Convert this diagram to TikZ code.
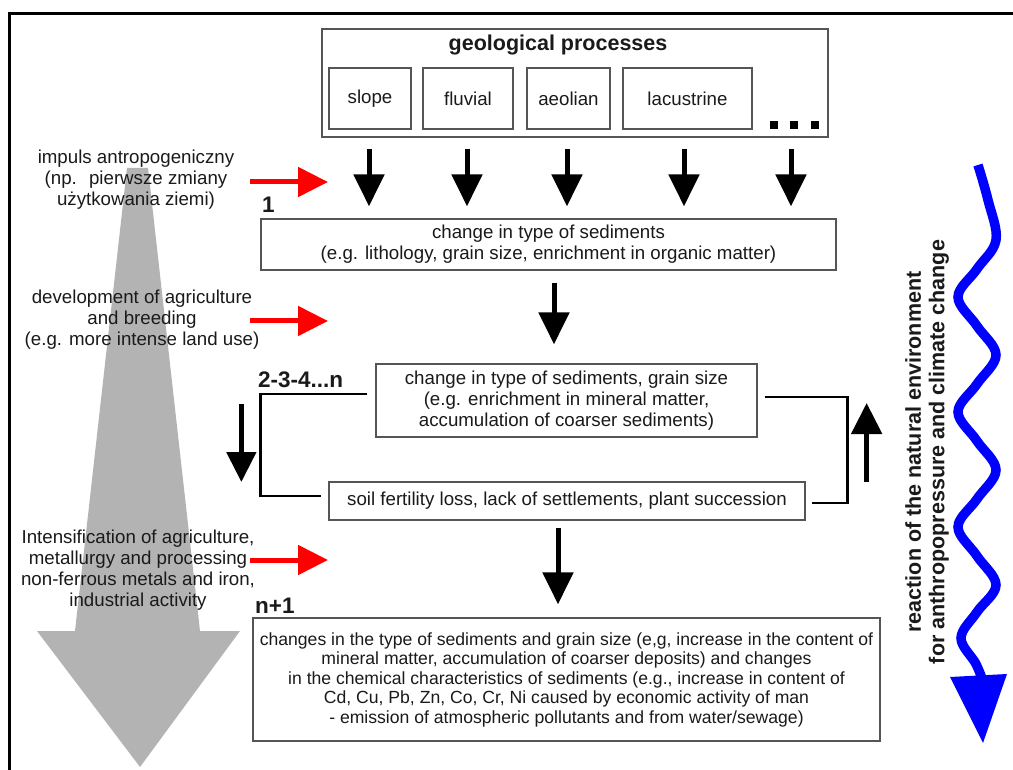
\documentclass[tikz,border=0pt]{standalone}
\usepackage{fontspec}
\setmainfont{Liberation Sans}
\usetikzlibrary{arrows.meta,calc}
\definecolor{txtcol}{HTML}{1A1A1A}
\definecolor{boxcol}{HTML}{555555}
\definecolor{graycol}{HTML}{B3B3B3}
\definecolor{bluecol}{HTML}{0000FF}
\definecolor{redcol}{HTML}{FF0000}
\begin{document}
\begin{tikzpicture}[x=1pt,y=-1pt,
  txt/.style={text=txtcol, font=\fontsize{18.7}{21}\selectfont, align=center, inner sep=0pt},
  box/.style={txt, draw=boxcol, line width=1.3pt, inner sep=0pt},
  lbl/.style={text=txtcol, font=\bfseries\fontsize{22.5}{25}\selectfont, inner sep=0pt},
  blk/.style={draw=black, line width=5pt, -{Triangle[length=32pt,width=30pt]}},
  redarr/.style={draw=redcol, line width=5pt, -{Triangle[length=30pt,width=29pt]}},
  loopline/.style={draw=black, line width=2.5pt},
  dot/.style={fill=black, minimum size=8pt, inner sep=0pt},
]
\useasboundingbox (0,0) rectangle (1013,770);
\fill[white] (0,0) rectangle (1013,770);
% frame
\draw[line width=3pt] (9.5,775) -- (9.5,13.5) -- (1020,13.5);

% grey arrow
\fill[graycol] (127,168) -- (148,168) -- (200,631) -- (240,631) -- (140,767) -- (37,631) -- (75,631) -- cycle;

% geological processes
\node[draw=boxcol, line width=1.3pt, minimum width=506pt, minimum height=108pt, inner sep=0pt] (geo) at (575,83) {};
\node[lbl, anchor=base, font=\bfseries\fontsize{21.5}{24}\selectfont] (geot) at (558,51) {geological processes};
\node[box, minimum width=82pt, minimum height=61pt] (slope) at (370,98.5) {slope};
\node[box, minimum width=90pt, minimum height=61pt] (fluvial) at (468,98.5) {fluvial};
\node[box, minimum width=83pt, minimum height=61pt] (aeolian) at (568.5,98.5) {aeolian};
\node[box, minimum width=129pt, minimum height=61pt] (lacus) at (687.5,98.5) {lacustrine};
\node[dot] (d1) at (774,125) {};
\node[dot] (d2) at (794,125) {};
\node[dot] (d3) at (814.5,125) {};

% main boxes
\node[box, minimum width=575pt, minimum height=51pt] (box1) at (548.5,244.5)
  {change in type of sediments\\(e.g. lithology, grain size, enrichment in organic matter)};
\node[box, minimum width=381pt, minimum height=73pt] (box2) at (566.5,400.5)
  {change in type of sediments, grain size\\(e.g. enrichment in mineral matter,\\accumulation of coarser sediments)};
\node[box, minimum width=476pt, minimum height=38pt] (soil) at (567,501)
  {soil fertility loss, lack of settlements, plant succession};
\node[box, minimum width=627pt, minimum height=123pt, font=\fontsize{17.6}{19.5}\selectfont] (box3) at (566.5,679.5)
  {changes in the type of sediments and grain size (e,g, increase in the content of\\
   mineral matter, accumulation of coarser deposits) and changes\\
   in the chemical characteristics of sediments (e.g., increase in content of\\
   Cd, Cu, Pb, Zn, Co, Cr, Ni caused by economic activity of man\\
   - emission of atmospheric pollutants and from water/sewage)};

% stage labels
\node[lbl, anchor=base west] (n1) at (262,213) {1};
\node[lbl, anchor=base west] (n2) at (258,388) {2-3-4...n};
\node[lbl, anchor=base west] (n3) at (255,613) {n+1};

% arrows from geological processes
\draw[blk, shorten <=11pt, shorten >=12pt] ([xshift=-1pt]slope.south |- geo.south) -- ([xshift=-1pt]slope.south |- box1.north);
\draw[blk, shorten <=11pt, shorten >=12pt] ([xshift=-1pt]fluvial.south |- geo.south) -- ([xshift=-1pt]fluvial.south |- box1.north);
\draw[blk, shorten <=11pt, shorten >=12pt] ([xshift=-1.5pt]aeolian.south |- geo.south) -- ([xshift=-1.5pt]aeolian.south |- box1.north);
\draw[blk, shorten <=11pt, shorten >=12pt] ([xshift=-3.5pt]lacus.south |- geo.south) -- ([xshift=-3.5pt]lacus.south |- box1.north);
\draw[blk, shorten <=11pt, shorten >=12pt] ([xshift=-3pt]d2.south |- geo.south) -- ([xshift=-3pt]d2.south |- box1.north);

% arrows between boxes
\coordinate (a1) at ([xshift=5.5pt]box1.south);
\draw[blk, shorten <=12pt, shorten >=19pt] (a1) -- (a1 |- box2.north);
\coordinate (a2) at ([xshift=-9pt]soil.south);
\draw[blk, shorten <=7pt, shorten >=13pt] (a2) -- (a2 |- box3.north);

% feedback loop
\draw[loopline] ($(box2.west)+(-8,-6.5)$) -- ++(-107,0) |- ($(soil.west)+(-7,-5)$);
\draw[loopline] ($(box2.east)+(7,-3.5)$) -- ++(83,0) |- ($(soil.east)+(6,2)$);
\coordinate (ldtop) at ($(soil.west)+(-87,-97)$);
\coordinate (ldbot) at ($(soil.west)+(-87,-19)$);
\draw[blk, -{Triangle[length=30pt,width=29pt]}] (ldtop) -- (ldbot);
\coordinate (rubot) at ($(soil.east)+(61,-19)$);
\coordinate (rutop) at ($(soil.east)+(61,-98)$);
\draw[blk, -{Triangle[length=31pt,width=30pt]}] (rubot) -- (rutop);

% left texts
\node[txt] (t1) at (136,180) {impuls antropogeniczny\\(np.~ pierwsze zmiany\\użytkowania ziemi)};
\node[txt] (t2) at (142,320) {development of agriculture\\and breeding\\(e.g. more intense land use)};
\node[txt] (t3) at (138,570) {Intensification of agriculture,\\metallurgy and processing\\non-ferrous metals and iron,\\industrial activity};

% red arrows
\coordinate (r1s) at (250,182); \coordinate (r1e) at (328,182);
\coordinate (r2s) at (250,321); \coordinate (r2e) at (328,321);
\coordinate (r3s) at (250,560); \coordinate (r3e) at (328,560);
\draw[redarr] (r1s) -- (r1e);
\draw[redarr] (r2s) -- (r2e);
\draw[redarr] (r3s) -- (r3e);

% rotated text
\node[rotate=90, text=txtcol, font=\bfseries\fontsize{21.5}{23.5}\selectfont, align=center, inner sep=0pt] (react) at (927,452)
  {reaction of the natural environment\\for anthropopressure and climate change};

% blue wavy arrow
\draw[bluecol, line width=9.5pt] plot[smooth, tension=0.6] coordinates {(978,165) (988,200) (996,240) (977,269) (958,297) (977,326) (996,355) (977,384) (958,412) (977,441) (996,470) (977,499) (958,527) (977,556) (996,585) (977,612) (961,638) (976,664) (984,684)};
\fill[bluecol] (950,677) -- (1007,674) -- (983,743) -- cycle;
\end{tikzpicture}
\end{document}
